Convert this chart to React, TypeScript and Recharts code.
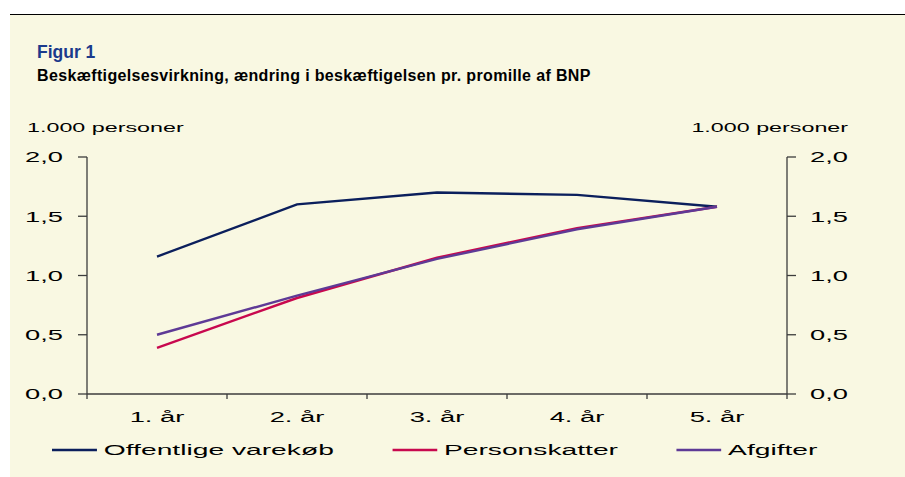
import React from "react";
import { LineChart, Line, XAxis, YAxis, Legend } from "recharts";

// values (1.000 personer)
const categories = ["1. år", "2. år", "3. år", "4. år", "5. år"];
const offentligeVarekob = [1.16, 1.6, 1.7, 1.68, 1.58];
const personskatter = [0.39, 0.81, 1.15, 1.4, 1.58];
const afgifter = [0.5, 0.83, 1.14, 1.39, 1.58];
const yTicks = [0, 0.5, 1, 1.5, 2];
const xTicks = [0, 1, 2, 3, 4, 5];
const unitLabel = "1.000 personer";

const series = [
  { key: "off", name: "Offentlige varekøb", color: "#0B1F5C", values: offentligeVarekob },
  { key: "pers", name: "Personskatter", color: "#C8084E", values: personskatter },
  { key: "afg", name: "Afgifter", color: "#5E3A96", values: afgifter },
];

const data = categories.map((cat, i) => {
  const row: Record<string, number | string> = { pos: i + 0.5, cat };
  series.forEach((s) => {
    row[s.key] = s.values[i];
  });
  return row;
});

const W = 905;
const H = 477;
const FONT = '"Liberation Sans", Arial, sans-serif';
const STRETCH = 1.82; // the source figure is stretched sideways
const LEFT_W = 87;
const RIGHT_W = 118;
const BAND = (W - LEFT_W - RIGHT_W) / categories.length;
const AXIS = "#3c3c3c";

const fmt = (v: number) => v.toFixed(1).replace(".", ",");

function XTick(props: any) {
  const { x, y, payload } = props;
  const label = categories[payload.value];
  if (!label) return <g />;
  return (
    <g transform={`translate(${x + BAND / 2},${y})`}>
      <text
        transform={`scale(${STRETCH},1)`}
        textAnchor="middle"
        dy="0.71em"
        fontSize={15}
        fontFamily={FONT}
        fill="#000"
      >
        {label}
      </text>
    </g>
  );
}

function YTick(props: any) {
  const { x, y, payload, side } = props;
  const tx = side === "right" ? x + 39 : x;
  return (
    <g transform={`translate(${tx},${y})`}>
      <text
        transform={`scale(${STRETCH},1)`}
        textAnchor="end"
        dy="0.355em"
        fontSize={15}
        fontFamily={FONT}
        fill="#000"
      >
        {fmt(payload.value)}
      </text>
    </g>
  );
}

function LegendBox() {
  return (
    <div
      style={{
        height: 22,
        display: "flex",
        alignItems: "center",
        gap: 32,
        marginLeft: 52,
        transform: `scaleX(${STRETCH})`,
        transformOrigin: "0 0",
        fontFamily: FONT,
        fontSize: 15.5,
        color: "#000",
        whiteSpace: "nowrap",
      }}
    >
      {series.map((s) => (
        <div key={s.key} style={{ display: "flex", alignItems: "center" }}>
          <svg width={24.7} height={4} style={{ display: "block" }}>
            <line x1={0} y1={2} x2={24.7} y2={2} stroke={s.color} strokeWidth={2.4} />
          </svg>
          <span style={{ marginLeft: 3.8, lineHeight: "22px" }}>{s.name}</span>
        </div>
      ))}
    </div>
  );
}

export default function App() {
  const unitStyle: React.CSSProperties = {
    position: "absolute",
    top: 122.2,
    fontFamily: FONT,
    fontSize: 12.8,
    lineHeight: "12.8px",
    color: "#000",
    whiteSpace: "nowrap",
  };

  return (
    <div
      style={{
        position: "absolute",
        left: 0,
        top: 0,
        width: W,
        height: H,
        background: "#fff",
        overflow: "hidden",
      }}
    >
      <div
        style={{
          position: "absolute",
          left: 10,
          top: 14,
          width: W - 10,
          height: H - 14,
          boxSizing: "border-box",
          background: "#F9F8E2",
          borderTop: "1px solid #000",
        }}
      />
      <div
        style={{
          position: "absolute",
          left: 37,
          top: 43.6,
          fontFamily: FONT,
          fontWeight: "bold",
          fontSize: 17.5,
          lineHeight: "17px",
          color: "#1B3A8C",
        }}
      >
        Figur 1
      </div>
      <div
        style={{
          position: "absolute",
          left: 37,
          top: 68.2,
          fontFamily: FONT,
          fontWeight: "bold",
          fontSize: 16,
          lineHeight: "16px",
          letterSpacing: 0.35,
          color: "#000",
          whiteSpace: "nowrap",
        }}
      >
        Beskæftigelsesvirkning, ændring i beskæftigelsen pr. promille af BNP
      </div>
      <div style={{ ...unitStyle, left: 27, transform: `scaleX(${STRETCH})`, transformOrigin: "0 0" }}>
        {unitLabel}
      </div>
      <div style={{ ...unitStyle, right: 57, transform: `scaleX(${STRETCH})`, transformOrigin: "100% 0" }}>
        {unitLabel}
      </div>

      <div style={{ position: "absolute", left: 0, top: 0 }}>
        <LineChart width={W} height={H} data={data} margin={{ top: 157, right: 0, bottom: 0, left: 0 }}>
          <XAxis
            type="number"
            dataKey="pos"
            domain={[0, categories.length]}
            ticks={xTicks}
            interval={0}
            tickSize={5}
            tickMargin={12}
            height={45}
            stroke={AXIS}
            strokeWidth={1.3}
            tick={(p: any) => <XTick {...p} />}
          />
          <YAxis
            yAxisId="l"
            domain={[0, 2]}
            ticks={yTicks}
            interval={0}
            width={LEFT_W}
            tickSize={9}
            tickMargin={15}
            stroke={AXIS}
            strokeWidth={1.3}
            tick={(p: any) => <YTick {...p} side="left" />}
          />
          <YAxis
            yAxisId="r"
            orientation="right"
            domain={[0, 2]}
            ticks={yTicks}
            interval={0}
            width={RIGHT_W}
            tickSize={9}
            tickMargin={13}
            stroke={AXIS}
            strokeWidth={1.3}
            allowDataOverflow
            tick={(p: any) => <YTick {...p} side="right" />}
          />
          {series.map((s) => (
            <Line
              key={s.key}
              yAxisId="l"
              type="linear"
              dataKey={s.key}
              name={s.name}
              stroke={s.color}
              strokeWidth={2.4}
              dot={false}
              activeDot={false}
              isAnimationActive={false}
            />
          ))}
          <Legend verticalAlign="bottom" height={38} content={() => <LegendBox />} />
        </LineChart>
      </div>
    </div>
  );
}
